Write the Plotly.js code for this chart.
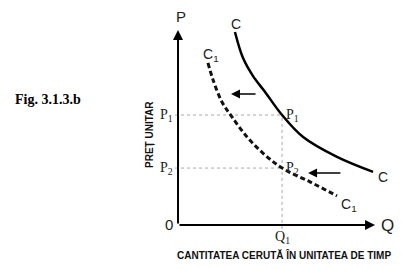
<!DOCTYPE html>
<html><head><meta charset="utf-8">
<script src="https://cdn.plot.ly/plotly-3.0.1.min.js"></script>
<style>html,body{margin:0;padding:0;background:#fff;}#chart{width:417px;height:270px;}</style>
</head><body><div id="chart"></div>
<script>
// Demand curve C (original)
const cQ = [2.89, 3.30, 3.80, 4.42, 5.28, 6.35, 8.07, 9.90];
const cP = [9.90, 8.56, 7.65, 6.82, 5.64, 4.51, 3.49, 2.72];
// Demand curve C1 (shifted left)
const c1Q = [1.52, 1.78, 2.23, 2.74, 3.55, 4.42, 5.28, 6.70, 8.07];
const c1P = [8.31, 7.44, 6.31, 5.54, 4.46, 3.59, 2.92, 2.21, 1.49];
// Key levels
const Q1 = 5.28, P1 = 5.64, P2 = 2.92;
const axisMaxQ = 10.0, axisMaxP = 10.0;
// Shift arrows [fromQ, toQ, P]
const shiftArrows = [[4.01, 2.69, 6.72], [8.32, 6.60, 2.67]];
// Labels
const figLabel = "Fig. 3.1.3.b";
const yTitle = "PREȚ UNITAR";
const xTitle = "CANTITATEA CERUTĂ ÎN UNITATEA DE TIMP";

const guide = {color: '#a8a8a8', width: 1, dash: 'dot'};
const traces = [
  {x: [-0.15, Q1], y: [P1, P1], mode: 'lines', line: guide, hoverinfo: 'skip'},
  {x: [-0.15, Q1], y: [P2, P2], mode: 'lines', line: guide, hoverinfo: 'skip'},
  {x: [Q1, Q1], y: [-0.2, P1], mode: 'lines', line: guide, hoverinfo: 'skip'},
  {x: cQ, y: cP, mode: 'lines', line: {color: '#000', width: 2.5, shape: 'spline'}, hoverinfo: 'skip'},
  {x: c1Q, y: c1P, mode: 'lines', line: {color: '#111', width: 3, shape: 'spline', dash: '5px,3px'}, hoverinfo: 'skip'}
];

const serif = {family: 'Liberation Serif, Times New Roman, serif', size: 14, color: '#222'};
const sans = {family: 'Liberation Sans, Arial, sans-serif', size: 14, color: '#222'};
const narrowBold = {family: 'Liberation Sans Narrow, Arial Narrow, Liberation Sans, sans-serif', size: 10, color: '#111', weight: 'bold'};

function txt(x, y, text, font, extra) {
  return Object.assign({x: x, y: y, xref: 'x', yref: 'y', text: text, showarrow: false, font: font}, extra || {});
}
function arrow(x, y, ax, ay, width, head, size) {
  return {x: x, y: y, ax: ax, ay: ay, xref: 'x', yref: 'y', axref: 'x', ayref: 'y', text: '',
    showarrow: true, arrowhead: head, arrowsize: size, arrowwidth: width, arrowcolor: '#000', standoff: 0, startstandoff: 0};
}

const annotations = [
  arrow(0, axisMaxP, 0, 0, 2, 2, 1),
  arrow(axisMaxQ, 0, 0, 0, 2, 2, 1),
  arrow(shiftArrows[0][1], shiftArrows[0][2], shiftArrows[0][0], shiftArrows[0][2], 1.5, 2, 1.2),
  arrow(shiftArrows[1][1], shiftArrows[1][2], shiftArrows[1][0], shiftArrows[1][2], 1.5, 2, 1.2),
  txt(0.15, 10.67, 'P', Object.assign({}, sans, {size: 15})),
  txt(10.61, -0.05, 'Q', Object.assign({}, sans, {size: 17})),
  txt(-0.45, 0.05, '0', Object.assign({}, sans, {size: 15})),
  txt(2.94, 10.31, 'C', sans),
  txt(1.65, 8.72, 'C<sub>1</sub>', sans),
  txt(10.41, 2.46, 'C', sans),
  txt(8.70, 1.05, 'C<sub>1</sub>', sans),
  txt(5.80, 5.62, 'P<sub>1</sub>', serif),
  txt(5.80, 2.89, 'P<sub>2</sub>', serif),
  txt(-0.58, 5.64, 'P<sub>1</sub>', serif),
  txt(-0.58, 2.92, 'P<sub>2</sub>', serif),
  txt(Q1, -0.62, 'Q<sub>1</sub>', serif),
  txt(-1.42, 4.62, yTitle, narrowBold, {textangle: -90}),
  txt(5.38, -1.52, xTitle, narrowBold),
  {x: 0.115, y: 0.63, xref: 'paper', yref: 'paper', xanchor: 'center', yanchor: 'middle', text: figLabel, showarrow: false,
   font: {family: 'Liberation Serif, Times New Roman, serif', size: 14, color: '#000', weight: 'bold'}}
];

const layout = {
  width: 417, height: 270,
  margin: {l: 0, r: 0, t: 0, b: 0},
  paper_bgcolor: '#fff', plot_bgcolor: '#fff',
  showlegend: false,
  xaxis: {range: [-9.036, 12.13], visible: false, fixedrange: true},
  yaxis: {range: [-2.308, 11.538], visible: false, fixedrange: true},
  annotations: annotations
};
Plotly.newPlot('chart', traces, layout, {displayModeBar: false, staticPlot: true});
</script></body></html>
